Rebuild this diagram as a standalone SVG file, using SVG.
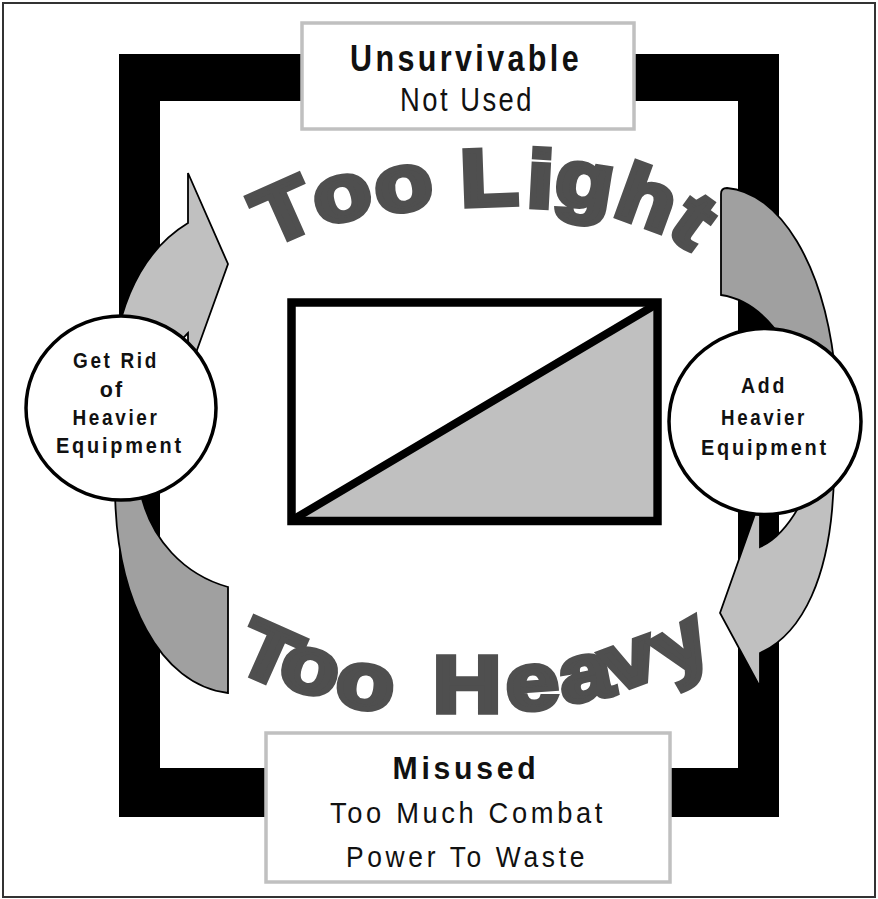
<svg xmlns="http://www.w3.org/2000/svg" width="878" height="899" viewBox="0 0 878 899">
<style>
.frame{fill:#000;fill-rule:evenodd}
.box{fill:#fff;stroke:#c0c0c0;stroke-width:3.5}
.circ{fill:#fff;stroke:#000;stroke-width:3.5}
.light{fill:#c0c0c0;stroke:#000;stroke-width:1.8;stroke-linejoin:miter}
.dark{fill:#a0a0a0;stroke:#000;stroke-width:1.8;stroke-linejoin:miter}
.lbl{font-family:"Liberation Sans",Arial,sans-serif;fill:#111;text-anchor:middle}
.b{font-weight:bold}
.big{font-family:"Liberation Sans",Arial,sans-serif;font-weight:bold;font-size:80px;fill:#4f4f4f;stroke:#4f4f4f;stroke-width:5.5;stroke-linejoin:miter;stroke-miterlimit:3;text-anchor:middle}
</style>
<rect x="3" y="3" width="872" height="894" fill="#fff" stroke="#333" stroke-width="2"/>
<path class="frame" d="M119,54 H779 V817 H119 Z M160,101 V768 H738 V101 Z"/>

<g id="connectors">
  <path id="left-head" class="light" d="M188,223 L188,173 L228,264 L188,375 L188,333 C178,342 168,360 160,400 L110,400 C112,320 135,255 188,223 Z"/>
  <path id="left-tail" class="dark" d="M115,490 C116,600 160,685 228,693 L228,587 C185,575 150,540 140,490 Z"/>
  <path id="right-tail" class="dark" d="M721,295 L721,194 Q721,188 727,188 C778,192 826,262 836,380 L800,380 C785,330 755,300 721,295 Z"/>
  <path id="right-head" class="light" d="M720,613 L760,500 L760,547 C776,540 792,522 805,495 L834,470 C833,580 800,635 760,653 L760,687 Z"/>
</g>

<g id="node-top">
  <rect class="box" x="302" y="23" width="332" height="106"/>
  <text class="lbl b" x="466" y="71" font-size="36" letter-spacing="4" textLength="232" lengthAdjust="spacingAndGlyphs">Unsurvivable</text>
  <text class="lbl" x="467" y="111" font-size="33" letter-spacing="3" textLength="134" lengthAdjust="spacingAndGlyphs">Not Used</text>
</g>

<g id="node-bottom">
  <rect class="box" x="266" y="733" width="404" height="149"/>
  <text class="lbl b" x="466" y="779" font-size="32" letter-spacing="4" textLength="147" lengthAdjust="spacingAndGlyphs">Misused</text>
  <text class="lbl" x="468" y="823" font-size="30" letter-spacing="4" textLength="276" lengthAdjust="spacingAndGlyphs">Too Much Combat</text>
  <text class="lbl" x="467" y="867" font-size="29" letter-spacing="4" textLength="242" lengthAdjust="spacingAndGlyphs">Power To Waste</text>
</g>

<g id="node-center">
  <rect x="291.5" y="302.5" width="366" height="218.5" fill="#fff"/>
  <polygon points="296,517 653,307 653,517" fill="#c0c0c0"/>
  <line x1="294" y1="519" x2="655" y2="305" stroke="#000" stroke-width="8"/>
  <rect x="291.5" y="302.5" width="366" height="218.5" fill="none" stroke="#000" stroke-width="8.5"/>
</g>

<g id="node-left">
  <ellipse class="circ" cx="121" cy="408" rx="95" ry="92"/>
  <text class="lbl b" x="116" y="368" font-size="21.5" letter-spacing="3" textLength="86" lengthAdjust="spacingAndGlyphs">Get Rid</text>
  <text class="lbl b" x="112" y="397" font-size="21.5" letter-spacing="2">of</text>
  <text class="lbl b" x="116" y="425" font-size="21.5" letter-spacing="3" textLength="87" lengthAdjust="spacingAndGlyphs">Heavier</text>
  <text class="lbl b" x="120" y="453" font-size="21.5" letter-spacing="3" textLength="128" lengthAdjust="spacingAndGlyphs">Equipment</text>
</g>

<g id="node-right">
  <ellipse class="circ" cx="765" cy="421.5" rx="96" ry="93"/>
  <text class="lbl b" x="764" y="393" font-size="21.5" letter-spacing="3" textLength="46" lengthAdjust="spacingAndGlyphs">Add</text>
  <text class="lbl b" x="764" y="425" font-size="21.5" letter-spacing="3" textLength="86" lengthAdjust="spacingAndGlyphs">Heavier</text>
  <text class="lbl b" x="765" y="455" font-size="21.5" letter-spacing="3" textLength="128" lengthAdjust="spacingAndGlyphs">Equipment</text>
</g>

<g id="node-too-light">
  <text class="big" transform="translate(295,236) rotate(-24) scale(1.18,1)">T</text>
  <text class="big" transform="translate(348,219) rotate(-15) scale(1.18,1)">o</text>
  <text class="big" transform="translate(407,210) rotate(-9) scale(1.18,1)">o</text>
  <text class="big" transform="translate(490,205) rotate(-2) scale(1.18,1)">L</text>
  <text class="big" transform="translate(539,207) rotate(3) scale(1.18,1)">i</text>
  <text class="big" transform="translate(581,207) rotate(9) scale(1.18,1)">g</text>
  <text class="big" transform="translate(638,224) rotate(20) scale(1.18,1)">h</text>
  <text class="big" transform="translate(678,242) rotate(36) scale(1.18,1)">t</text>
</g>

<g id="node-too-heavy">
  <text class="big" transform="translate(258,679) rotate(24) scale(1.18,1)">T</text>
  <text class="big" transform="translate(304,692) rotate(15) scale(1.18,1)">o</text>
  <text class="big" transform="translate(362,708) rotate(8) scale(1.18,1)">o</text>
  <text class="big" transform="translate(467,712) scale(1.18,1)">H</text>
  <text class="big" transform="translate(534,709) rotate(-4) scale(1.18,1)">e</text>
  <text class="big" transform="translate(590,699) rotate(-11) scale(1.18,1)">a</text>
  <text class="big" transform="translate(638,684) rotate(-20) scale(1.18,1)">v</text>
  <text class="big" transform="translate(693,666) rotate(-30) scale(1.18,1)">y</text>
</g>
</svg>
